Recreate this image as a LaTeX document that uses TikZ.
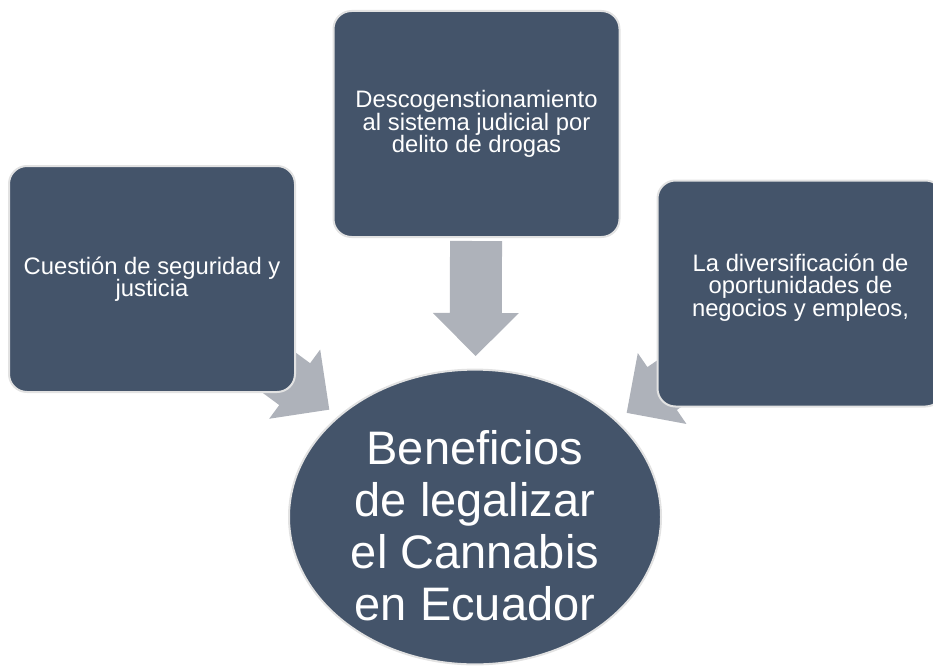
\documentclass[tikz,border=0pt]{standalone}
\usepackage{fontspec}
\setmainfont{Liberation Sans}
\usetikzlibrary{calc,backgrounds,shapes.geometric}
\definecolor{slateblue}{HTML}{44546A}
\definecolor{arrowgray}{HTML}{AEB2BA}
\definecolor{edgegray}{HTML}{E2E2E2}
\tikzset{
  ideabox/.style={rectangle, rounded corners=18pt, fill=slateblue, draw=edgegray,
    line width=2pt, minimum width=286pt, minimum height=226pt, text=white,
    align=center, font=\fontsize{23.8pt}{22.5pt}\selectfont},
  goaloval/.style={ellipse, fill=slateblue, draw=edgegray, line width=2pt,
    minimum width=372pt, minimum height=292pt, inner sep=0pt, text=white,
    align=center, font=\fontsize{47pt}{52pt}\selectfont}
}
% #1 source box, #2 target, #3 distance of the tip from the target centre
\newcommand{\blockarrow}[3]{
  \coordinate (tip) at ($(#2)!#3!(#1)$);
  \coordinate (base) at ($(tip)!43pt!(#1)$);
  \coordinate (tail) at ($(tip)!115pt!(#1)$);
  \fill[arrowgray] (tip) -- ($(base)!43pt!90:(tip)$) -- ($(base)!26pt!90:(tip)$)
    -- ($(tail)!26pt!90:(tip)$) -- ($(tail)!26pt!-90:(tip)$)
    -- ($(base)!26pt!-90:(tip)$) -- ($(base)!43pt!-90:(tip)$) -- cycle;
}

\begin{document}
\begin{tikzpicture}[x=1pt, y=-1pt]
    \useasboundingbox (0,0) rectangle (933,666);
    \node[goaloval] (goal) at (475,517) {\rule{0pt}{52pt}Beneficios\\de legalizar\\el Cannabis\\en Ecuador};
    \node[ideabox] (security) at (152,279) {Cuestión de seguridad y\\justicia};
    \node[ideabox] (courts) at (476.5,124) {Descogenstionamiento\\al sistema judicial por\\delito de drogas};
    \node[ideabox] (business) at (800.5,293.5) {La diversificación de\\oportunidades de\\negocios y empleos,\rule[-17pt]{0pt}{0pt}};
    \begin{pgfonlayer}{background}
      \blockarrow{security}{goal}{181pt}
      \blockarrow{courts}{goal}{161pt}
      \blockarrow{business}{goal}{184pt}
    \end{pgfonlayer}
  \end{tikzpicture}
\end{document}
